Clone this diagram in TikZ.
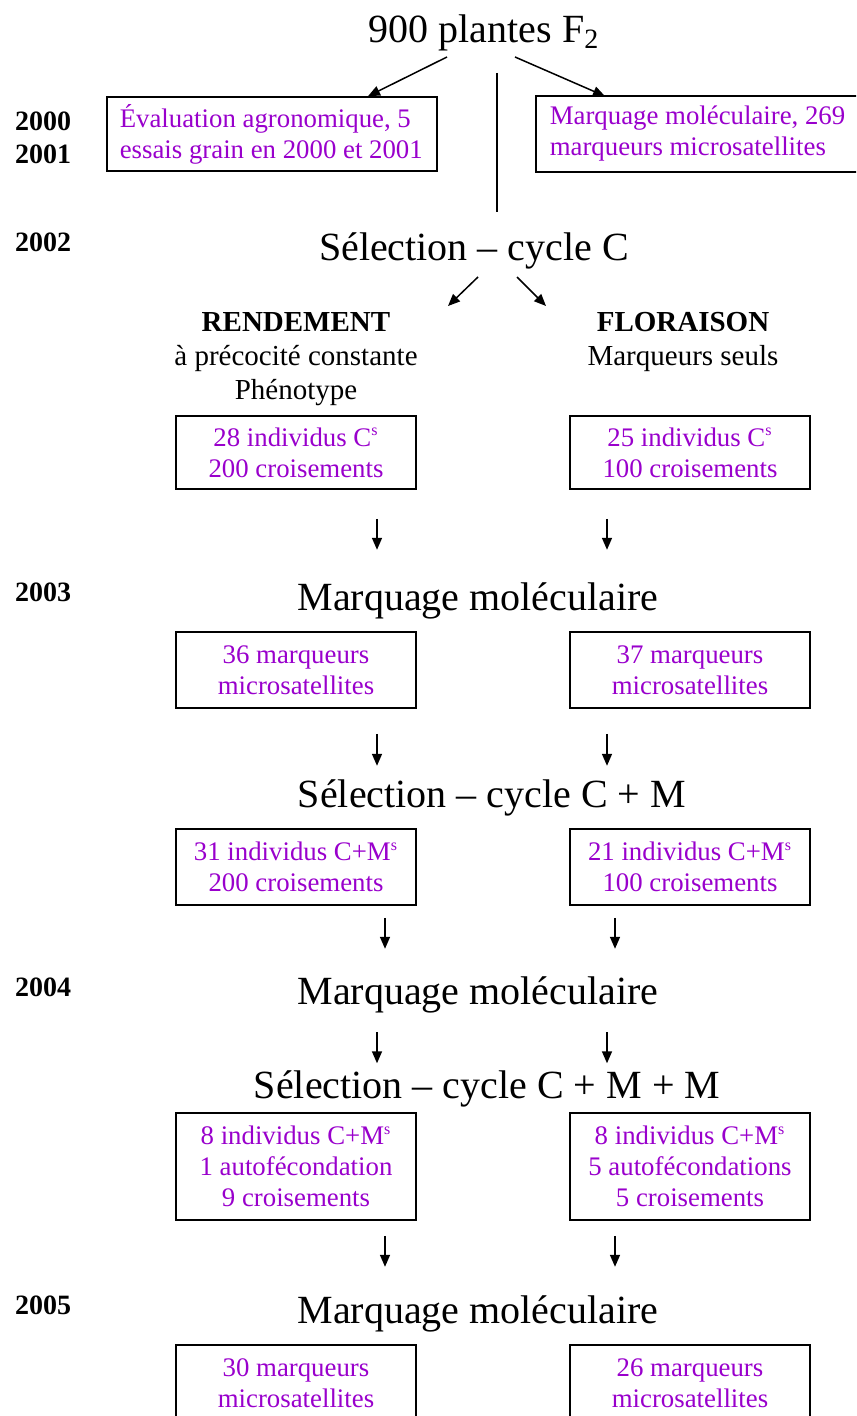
\documentclass[tikz,border=0pt]{standalone}
\usepackage{fontspec}
\setmainfont{Liberation Serif}
\usetikzlibrary{arrows.meta,calc}
\definecolor{violetmq}{RGB}{153,0,204}
\newcommand{\supS}{\textsuperscript{\fontsize{8}{8}\selectfont s}}
\newcommand{\Cs}{C\supS}
\newcommand{\CMs}{C+M\supS}

\begin{document}
\begin{tikzpicture}[x=0.5pt,y=-0.5pt,
    big/.style={font=\fontsize{20}{24}\selectfont},
    year/.style={anchor=west,align=left,font=\fontsize{14}{16.5}\selectfont\bfseries},
    head/.style={align=center,font=\fontsize{14.5}{17}\selectfont},
    cadre/.style={draw,line width=0.8pt,text=violetmq,align=center,
      minimum width=120pt,inner sep=0pt,font=\fontsize{13.4}{15.5}\selectfont},
    haut/.style={cadre,align=flush left,minimum height=37pt,inner xsep=6.5pt,inner ysep=1pt},
    arr/.style={-{Triangle[length=6pt,width=5pt]},line width=0.75pt}]
  \path[use as bounding box] (0,0) rectangle (856,1416);
  \clip (0,0) rectangle (856,1416);

  % annees
  \node[year] (y1) at (8,138) {2000\\2001};
  \node[year] (y2) at (8,242) {2002};
  \node[year] (y3) at (8,592) {2003};
  \node[year] (y4) at (8,987) {2004};
  \node[year] (y5) at (8,1305) {2005};

  % depart
  \node[haut,anchor=west,text width=152pt] (eval) at (106,134)
    {Évaluation agronomique, 5\\essais grain en 2000 et 2001};
  \node[haut,draw=none,anchor=west,text width=200pt] (marq) at (536,134)
    {Marquage moléculaire, 269\\marqueurs microsatellites};
  \draw[line width=0.8pt] (marq.north east) -- (marq.north west)
    -- (marq.south west) -- (marq.south east);
  \node[big] (top) at (484,33) {900 plantes F\textsubscript{2}};
  \coordinate (t1) at (447,57);
  \coordinate (t2) at (515,57);
  \draw[arr] (t1) -- ($(eval.north west)+(262,0)$);
  \draw[arr] (t2) -- ($(marq.north west)+(69,0)$);
  \coordinate (v1) at (497,73);
  \coordinate (v2) at (497,212);
  \draw[line width=0.75pt] (v1) -- (v2);

  % cycle C
  \node[big] (sel1) at (474,251) {Sélection -- cycle C};
  \coordinate (s1a) at (478,277);
  \coordinate (s1b) at (448,306);
  \coordinate (s1c) at (517,277);
  \coordinate (s1d) at (546,306);
  \draw[arr] (s1a) -- (s1b);
  \draw[arr] (s1c) -- (s1d);
  \node[head] (rend) at (296,359) {\textbf{RENDEMENT}\\à précocité constante\\Phénotype};
  \node[head] (flor) at (683,342) {\textbf{FLORAISON}\\Marqueurs seuls};
  \node[cadre,minimum height=36.5pt] (l1) at (296,452.5) {28 individus \Cs\\200 croisements};
  \node[cadre,minimum height=36.5pt] (r1) at (690,452.5) {25 individus \Cs\\100 croisements};
  \draw[arr] ($(l1.south)+(81,29)$) -- ++(0,31);
  \draw[arr] ($(r1.south)+(-83,29)$) -- ++(0,31);

  % marquage 2003
  \node[big] (mq1) at (478,601) {Marquage moléculaire};
  \node[cadre,minimum height=38pt] (l2) at (296,670) {36 marqueurs\\microsatellites};
  \node[cadre,minimum height=38pt] (r2) at (690,670) {37 marqueurs\\microsatellites};
  \draw[arr] ($(l2.south)+(81,25)$) -- ++(0,32);
  \draw[arr] ($(r2.south)+(-83,25)$) -- ++(0,32);

  % cycle C + M
  \node[big] (sel2) at (492,798) {Sélection -- cycle C + M};
  \node[cadre,minimum height=38pt] (l3) at (296,867) {31 individus \CMs\\200 croisements};
  \node[cadre,minimum height=38pt] (r3) at (690,867) {21 individus \CMs\\100 croisements};
  \draw[arr] ($(l3.south)+(89,12)$) -- ++(0,31);
  \draw[arr] ($(r3.south)+(-75,12)$) -- ++(0,31);

  % marquage 2004
  \node[big] (mq2) at (478,995) {Marquage moléculaire};
  \draw[arr] ($(mq2.south)+(-101,12)$) -- ++(0,31);
  \draw[arr] ($(mq2.south)+(129,12)$) -- ++(0,31);

  % cycle C + M + M
  \node[big] (sel3) at (487,1089) {Sélection -- cycle C + M + M};
  \node[cadre,minimum height=53.5pt] (l4) at (296,1166.5) {8 individus \CMs\\1 autofécondation\\9 croisements};
  \node[cadre,minimum height=53.5pt] (r4) at (690,1166.5) {8 individus \CMs\\5 autofécondations\\5 croisements};
  \draw[arr] ($(l4.south)+(89,15)$) -- ++(0,31);
  \draw[arr] ($(r4.south)+(-75,15)$) -- ++(0,31);

  % marquage 2005
  \node[big] (mq3) at (478,1314) {Marquage moléculaire};
  \node[cadre,minimum height=38pt] (l5) at (296,1383) {30 marqueurs\\microsatellites};
  \node[cadre,minimum height=38pt] (r5) at (690,1383) {26 marqueurs\\microsatellites};
\end{tikzpicture}
\end{document}
